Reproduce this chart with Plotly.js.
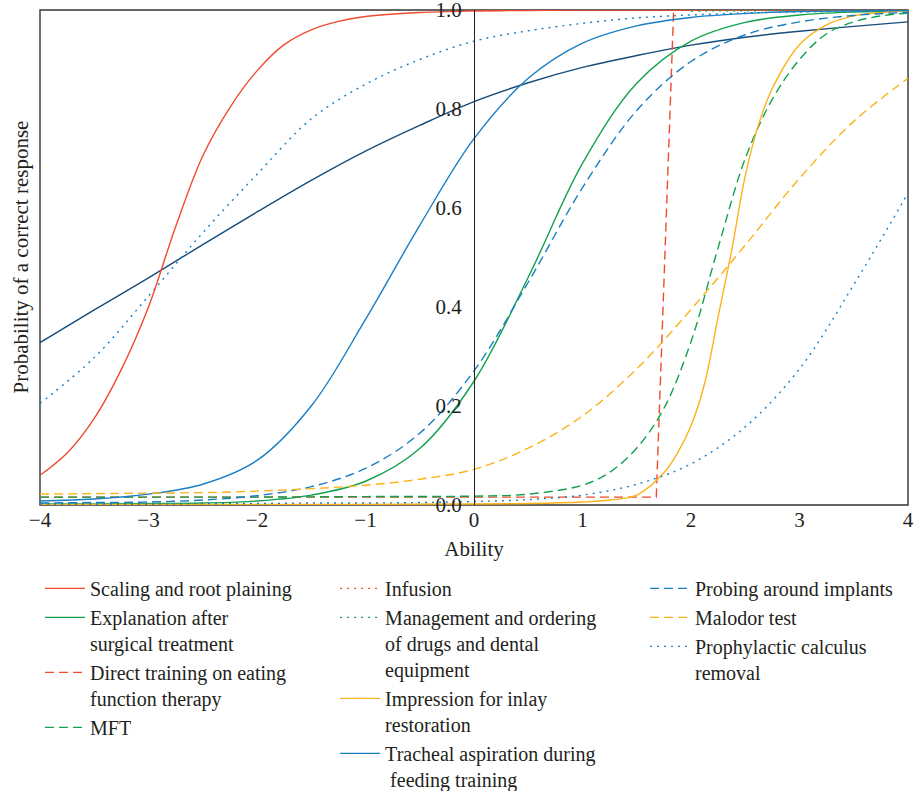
<!DOCTYPE html>
<html>
<head>
<meta charset="utf-8">
<script src="https://cdn.plot.ly/plotly-3.0.1.min.js"></script>
<style>html,body{margin:0;padding:0;background:#fff;}#chart{width:914px;height:791px;}</style>
</head>
<body>
<div id="chart"></div>
<script>
// ---- data ----
const xGrid = [-4,-3.5,-3,-2.5,-2,-1.5,-1,-0.5,0,0.5,1,1.5,2,2.5,3,3.5,4];

const xScaling = [-4,-3.75,-3.5,-3.25,-3,-2.75,-2.5,-2.25,-2,-1.75,-1.5,-1.25,-1,-0.5,0,0.5,1,2,3,4];
const yScaling = [0.06,0.105,0.175,0.274,0.4,0.562,0.705,0.803,0.877,0.93,0.96,0.977,0.987,0.995,0.998,0.999,1,1,1,1];

const yExplanation = [0.002,0.002,0.003,0.004,0.008,0.02,0.048,0.114,0.25,0.46,0.69,0.852,0.937,0.975,0.99,0.996,0.998];

const xDirect = [-4,1.68,1.84,4];
const yDirect = [0.016,0.016,1.0,1.0];

const xMFT = [-4,-3,-2,-1,0,0.5,1,1.25,1.5,1.75,2,2.25,2.5,2.75,3,3.25,3.5,3.75,4];
const yMFT = [0.016,0.016,0.016,0.017,0.018,0.022,0.04,0.066,0.115,0.195,0.33,0.52,0.7,0.82,0.9,0.952,0.976,0.988,0.994];

const xInfusion = [0,2,4];
const yInfusion = [0.999,1,1];

const xManagement = [2,3,4];
const yManagement = [0.998,0.999,1];

const xImpression = [-4,-2,0,0.5,1,1.25,1.5,1.75,1.875,2,2.125,2.25,2.375,2.5,2.625,2.75,3,3.25,3.5,3.75,4];
const yImpression = [0.001,0.001,0.002,0.003,0.006,0.01,0.02,0.065,0.105,0.16,0.245,0.38,0.515,0.665,0.77,0.842,0.93,0.97,0.988,0.995,0.998];

const yTracheal = [0.008,0.012,0.022,0.042,0.09,0.2,0.375,0.565,0.74,0.862,0.933,0.968,0.985,0.993,0.997,0.998,0.999];

const yProbing = [0.004,0.005,0.006,0.010,0.019,0.037,0.074,0.145,0.271,0.45,0.641,0.797,0.896,0.95,0.976,0.989,0.995];

const yMalodor = [0.022,0.023,0.024,0.025,0.028,0.033,0.04,0.052,0.072,0.115,0.18,0.275,0.395,0.525,0.66,0.775,0.862];

const yProphylactic = [0.002,0.002,0.002,0.003,0.003,0.004,0.004,0.005,0.007,0.011,0.02,0.042,0.083,0.158,0.275,0.445,0.63];

// curves drawn in the figure without a legend entry
const yDarkSolid = [0.328,0.394,0.459,0.526,0.592,0.656,0.715,0.767,0.815,0.853,0.884,0.908,0.929,0.945,0.957,0.967,0.976];
const yLightDotted = [0.205,0.298,0.422,0.55,0.668,0.78,0.85,0.9,0.937,0.958,0.973,0.984,0.99,0.994,0.996,0.998,0.999];

const yTickVals = [0,0.2,0.4,0.6,0.8,1.0];
const yTickText = ['0.0','0.2','0.4','0.6','0.8','1.0'];
const xTickVals = [-4,-3,-2,-1,0,1,2,3,4];

// ---- styles ----
const RED = '#EF4B2F', GREEN = '#12A24E', YELLOW = '#FBB31A', BLUE = '#1A7EC3', NAVY = '#174C7A';
const DASH = '9px,5px', DOT = '2px,5px';
const FONT = 'Liberation Serif, Times New Roman, serif';
const TXT = '#231F20';

function tr(x, y, name, color, dash, legend, shape) {
  return {
    x: x, y: y, name: name, type: 'scatter', mode: 'lines',
    line: {color: color, width: 1.4, dash: dash || 'solid', shape: shape || 'spline'},
    legend: legend, showlegend: !!legend, hoverinfo: 'skip'
  };
}

const data = [
  tr(xGrid, yDarkSolid, 'Dark solid curve', NAVY, 'solid', null),
  tr(xGrid, yLightDotted, 'Dotted curve', BLUE, DOT, null),
  tr(xScaling, yScaling, 'Scaling and root plaining', RED, 'solid', 'legend'),
  tr(xGrid, yExplanation, 'Explanation after<br>surgical treatment', GREEN, 'solid', 'legend'),
  tr(xDirect, yDirect, 'Direct training on eating<br>function therapy', RED, DASH, 'legend', 'linear'),
  tr(xMFT, yMFT, 'MFT', GREEN, DASH, 'legend'),
  tr(xInfusion, yInfusion, 'Infusion', RED, DOT, 'legend2'),
  tr(xManagement, yManagement, 'Management and ordering<br>of drugs and dental<br>equipment', GREEN, DOT, 'legend2'),
  tr(xImpression, yImpression, 'Impression for inlay<br>restoration', YELLOW, 'solid', 'legend2'),
  tr(xGrid, yTracheal, 'Tracheal aspiration during<br> feeding training', BLUE, 'solid', 'legend2'),
  tr(xGrid, yProbing, 'Probing around implants', BLUE, DASH, 'legend3'),
  tr(xGrid, yMalodor, 'Malodor test', YELLOW, DASH, 'legend3'),
  tr(xGrid, yProphylactic, 'Prophylactic calculus<br>removal', BLUE, DOT, 'legend3')
];

function leg(x) {
  return {x: x, y: -0.129, xanchor: 'left', yanchor: 'top', orientation: 'v',
          bgcolor: 'rgba(0,0,0,0)', borderwidth: 0, tracegroupgap: 0,
          itemwidth: 40, valign: 'top',
          font: {family: FONT, size: 20, color: TXT}};
}

const layout = {
  width: 914, height: 791,
  margin: {l: 40, r: 6, t: 10, b: 286, autoexpand: false},
  paper_bgcolor: '#fff', plot_bgcolor: '#fff',
  font: {family: FONT, size: 21, color: TXT},
  xaxis: {
    range: [-4, 4], tickvals: xTickVals, ticks: '', showgrid: false, zeroline: false,
    showline: false, tickfont: {family: FONT, size: 21, color: TXT}, automargin: false,
    title: {text: 'Ability', font: {family: FONT, size: 21, color: TXT}, standoff: 10}
  },
  yaxis: {
    range: [0, 1], anchor: 'free', position: 0.5, side: 'left', automargin: false,
    tickvals: yTickVals, ticktext: yTickText, ticks: '', ticklabelstandoff: 8,
    ticklabeloverflow: 'allow',
    showgrid: false, zeroline: false, showline: true, linecolor: TXT, linewidth: 1.3,
    tickfont: {family: FONT, size: 21, color: TXT}
  },
  shapes: [{type: 'rect', xref: 'paper', yref: 'paper', x0: 0, x1: 1, y0: 0, y1: 1,
            line: {color: '#333', width: 1.4}, layer: 'below'}],
  annotations: [{text: 'Probability of a correct response', xref: 'paper', yref: 'paper',
                 x: -0.023, y: 0.5, textangle: -90, showarrow: false,
                 xanchor: 'center', yanchor: 'middle',
                 font: {family: FONT, size: 21, color: TXT}}],
  legend: leg(0.0),
  legend2: leg(0.340),
  legend3: leg(0.697),
  showlegend: true
};

Plotly.newPlot('chart', data, layout, {displayModeBar: false, staticPlot: true});
</script>
</body>
</html>
